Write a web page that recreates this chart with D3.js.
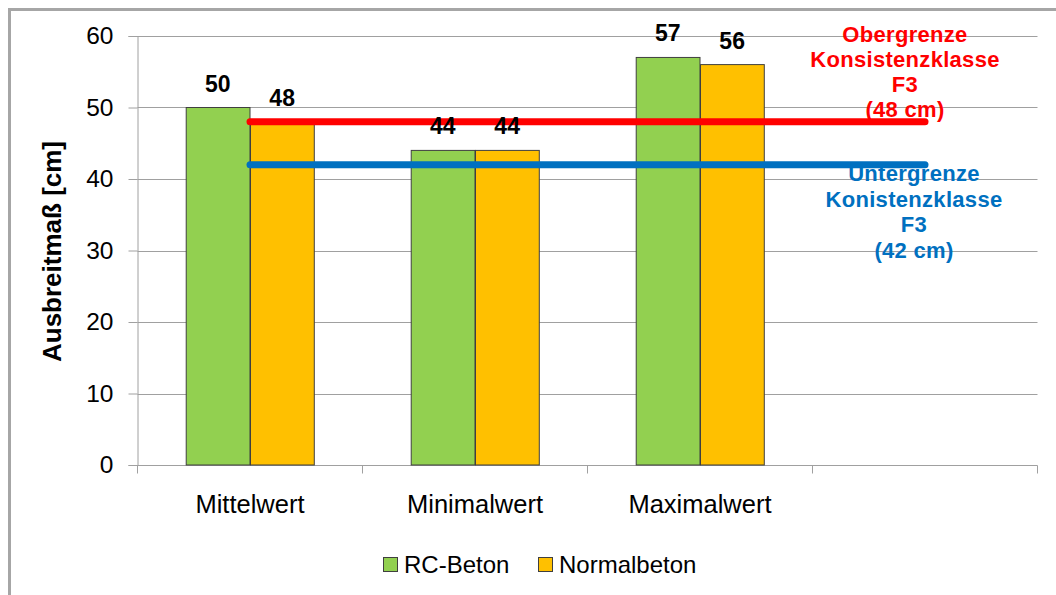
<!DOCTYPE html>
<html><head><meta charset="utf-8">
<script src="https://cdn.jsdelivr.net/npm/d3@7/dist/d3.min.js"></script>
<style>html,body{margin:0;padding:0;background:#fff;}svg{display:block;font-family:"Liberation Sans",Arial,sans-serif;}</style>
</head><body>
<svg id="chart" width="1056" height="595"></svg>
<script>
const categories = ["Mittelwert", "Minimalwert", "Maximalwert", ""];
const seriesNames = ["RC-Beton", "Normalbeton"];
const rcBeton = [50, 44, 57, null];
const normalbeton = [48, 44, 56, null];
const upperLimit = [48, 48, 48, 48];
const lowerLimit = [42, 42, 42, 42];
const yTicks = [0, 10, 20, 30, 40, 50, 60];
const upperLabel = ["Obergrenze", "Konsistenzklasse", "F3", "(48 cm)"];
const lowerLabel = ["Untergrenze", "Konistenzklasse", "F3", "(42 cm)"];
const colors = {"RC-Beton": "#92D050", "Normalbeton": "#FFC000"};

(function () {
const svg = d3.select("#chart");
// outer chart frame
svg.append("rect").attr("x", 9.5).attr("y", 9.5).attr("width", 1100).attr("height", 700)
  .attr("fill", "none").attr("stroke", "#a6a6a6").attr("stroke-width", 3);

const pLeft = 137.5, pRight = 1037.5, pTop = 36, pBottom = 465;
const x0 = d3.scaleBand().domain(categories.map((c, i) => i)).range([pLeft, pRight]).padding(0);
const bw = x0.bandwidth();
const barW = bw / 3.5;
const x1 = d3.scaleBand().domain(seriesNames).range([bw / 2 - barW, bw / 2 + barW]).padding(0);
const y = d3.scaleLinear().domain([0, 60]).range([pBottom, pTop]);

// gridlines
svg.append("g").selectAll("line").data(yTicks.filter(d => d > 0)).join("line")
  .attr("x1", pLeft).attr("x2", pRight)
  .attr("y1", d => Math.round(y(d)) + 0.5).attr("y2", d => Math.round(y(d)) + 0.5)
  .attr("stroke", "#a0a0a0").attr("stroke-width", 1);

// y axis
const yAxis = svg.append("g").attr("transform", `translate(${pLeft},0)`)
  .call(d3.axisLeft(y).tickValues(yTicks).tickSize(9).tickPadding(15));
yAxis.select(".domain").attr("stroke", "#a0a0a0");
yAxis.selectAll(".tick line").attr("stroke", "#a0a0a0");
yAxis.selectAll(".tick text").attr("font-size", 24.5).attr("fill", "#000")
  .attr("font-family", "Liberation Sans, Arial, sans-serif");

// x axis
const xAxisG = svg.append("g").attr("transform", `translate(0,${pBottom + 0.5})`);
xAxisG.append("line").attr("x1", pLeft).attr("x2", pRight).attr("stroke", "#a0a0a0");
xAxisG.selectAll("line.tk").data(d3.range(categories.length + 1)).join("line").attr("class", "tk")
  .attr("x1", i => i < categories.length ? x0(i) : x0(categories.length - 1) + bw)
  .attr("x2", i => i < categories.length ? x0(i) : x0(categories.length - 1) + bw)
  .attr("y1", 0).attr("y2", 8).attr("stroke", "#a0a0a0");
xAxisG.selectAll("text").data(categories).join("text")
  .attr("x", (d, i) => x0(i) + bw / 2).attr("y", 47)
  .attr("text-anchor", "middle").attr("font-size", 25.5).attr("fill", "#000").text(d => d);

// bars
const seriesData = [rcBeton, normalbeton];
const barRows = [];
seriesNames.forEach((s, si) => seriesData[si].forEach((v, ci) => { if (v != null) barRows.push({s, ci, v}); }));
svg.append("g").selectAll("rect").data(barRows).join("rect")
  .attr("x", d => x0(d.ci) + x1(d.s) + 0.5)
  .attr("y", d => y(d.v))
  .attr("width", x1.bandwidth() - 0.5)
  .attr("height", d => y(0) - y(d.v))
  .attr("fill", d => colors[d.s]).attr("stroke", "#3f3f3f").attr("stroke-width", 1);

// limit lines
const line = d3.line().x((d, i) => x0(i) + bw / 2).y(d => y(d));
svg.append("path").datum(upperLimit).attr("d", line).attr("fill", "none")
  .attr("stroke", "#FF0000").attr("stroke-width", 7).attr("stroke-linecap", "round");
svg.append("path").datum(lowerLimit).attr("d", line).attr("fill", "none")
  .attr("stroke", "#0070C0").attr("stroke-width", 7).attr("stroke-linecap", "round");

// data labels
svg.append("g").selectAll("text").data(barRows).join("text")
  .attr("x", d => x0(d.ci) + x1(d.s) + x1.bandwidth() / 2)
  .attr("y", d => y(d.v) - 16)
  .attr("text-anchor", "middle").attr("font-size", 23).attr("font-weight", "bold").attr("fill", "#000")
  .text(d => d.v);

// limit labels
const lastC = x0(categories.length - 1) + bw / 2;
svg.append("text").attr("text-anchor", "middle").attr("font-size", 22).attr("font-weight", "bold")
  .attr("fill", "#FF0000").attr("letter-spacing", 0.3)
  .selectAll("tspan").data(upperLabel).join("tspan")
  .attr("x", lastC - 20).attr("y", (d, i) => 42 + i * 25).text(d => d);
svg.append("text").attr("text-anchor", "middle").attr("font-size", 22).attr("font-weight", "bold")
  .attr("fill", "#0070C0").attr("letter-spacing", 0.3)
  .selectAll("tspan").data(lowerLabel).join("tspan")
  .attr("x", lastC - 11).attr("y", (d, i) => 181 + i * 25.5).text(d => d);

// y title
svg.append("text").attr("transform", `translate(61,251.5) rotate(-90)`)
  .attr("text-anchor", "middle").attr("font-size", 26).attr("font-weight", "bold").attr("fill", "#000")
  .text("Ausbreitmaß [cm]");

// legend
const legend = svg.append("g");
const legX = [383, 538];
seriesNames.forEach((s, i) => {
  legend.append("rect").attr("x", legX[i] + 0.5).attr("y", 557.5).attr("width", 14).attr("height", 14)
    .attr("fill", colors[s]).attr("stroke", "#3f3f3f").attr("stroke-width", 1);
  legend.append("text").attr("x", legX[i] + 21).attr("y", 573).attr("font-size", 24).attr("fill", "#000").text(s);
});
})();
</script>
</body></html>
